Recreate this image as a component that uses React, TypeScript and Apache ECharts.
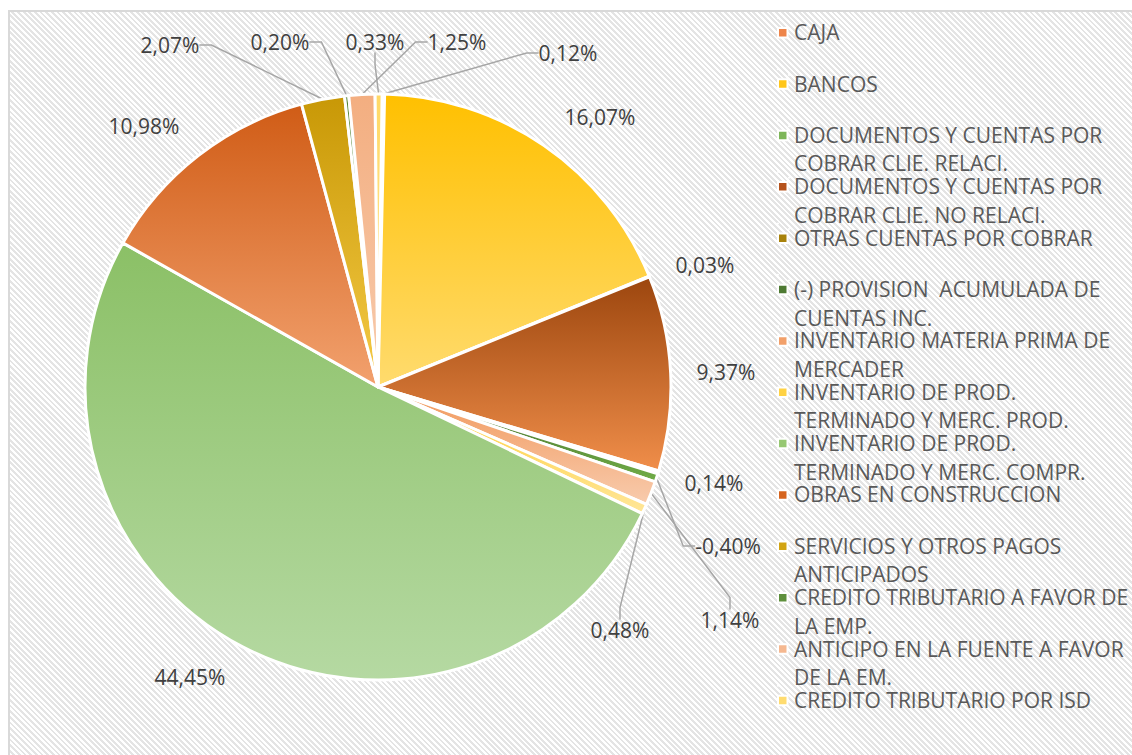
import React, { useEffect, useRef } from "react";
import * as echarts from "echarts";

const categories = [
  "CAJA",
  "BANCOS",
  "DOCUMENTOS Y CUENTAS POR\nCOBRAR CLIE. RELACI.",
  "DOCUMENTOS Y CUENTAS POR\nCOBRAR CLIE. NO RELACI.",
  "OTRAS CUENTAS POR COBRAR",
  "(-) PROVISION  ACUMULADA DE\nCUENTAS INC.",
  "INVENTARIO MATERIA PRIMA DE\nMERCADER",
  "INVENTARIO DE PROD.\nTERMINADO Y MERC. PROD.",
  "INVENTARIO DE PROD.\nTERMINADO Y MERC. COMPR.",
  "OBRAS EN CONSTRUCCION",
  "SERVICIOS Y OTROS PAGOS\nANTICIPADOS",
  "CREDITO TRIBUTARIO A FAVOR DE\nLA EMP.",
  "ANTICIPO EN LA FUENTE A FAVOR\nDE LA EM.",
  "CREDITO TRIBUTARIO POR ISD",
];

const values = [0.12, 16.07, 0.03, 9.37, 0.14, -0.4, 1.14, 0.48, 44.45, 10.98, 2.07, 0.2, 1.25, 0.33];

const topColors = [
  "#ED7D31", "#FFC000", "#70AD47", "#9C460E", "#997300", "#43682B", "#F1975A",
  "#FFCD33", "#8BC066", "#D05C16", "#C89806", "#548235", "#F3AE80", "#FFD966",
];
const bottomColors = [
  "#F4B183", "#FFDB6E", "#A9D18E", "#F08E4A", "#E0B030", "#70AD47", "#F8CBAD",
  "#FFE699", "#B5D9A2", "#F2A16E", "#F5CA45", "#8CC168", "#F8CBAD", "#FFE699",
];
const legendColors = [
  "#EE854A", "#FFC61A", "#7DB659", "#B5521C", "#A8820C", "#4E7A33", "#F2A06A",
  "#FFD244", "#97C873", "#D6641E", "#D2A412", "#5E8F3C", "#F5B890", "#FFDC70",
];

// label centres (layout only)
const labelX = [568, 600, 705, 726, 714, 728, 730, 620, 190, 144, 170, 280, 457, 375];
const labelY = [53, 117, 265, 372, 483, 546, 620, 630, 677, 126, 45, 42, 42, 42];
const withLeader = [true, false, false, false, false, true, true, true, false, false, true, true, true, true];

const FONT = "'Open Sans', 'Liberation Sans', sans-serif";

export default function App() {
  const ref = useRef<HTMLDivElement>(null);

  useEffect(() => {
    const chart = echarts.init(ref.current!, null, { renderer: "svg" });
    const fmt = (v: number) => v.toFixed(2).replace(".", ",") + "%";
    const data = categories.map((name, i) => ({
      name,
      value: Math.abs(values[i]),
      itemStyle: {
        color: new echarts.graphic.LinearGradient(0, 0, 0, 1, [
          { offset: 0, color: topColors[i] },
          { offset: 1, color: bottomColors[i] },
        ]),
      },
      labelLine: { show: withLeader[i] },
    }));

    chart.setOption({
      animation: false,
      backgroundColor: "transparent",
      tooltip: { show: false },
      legend: {
        orient: "vertical",
        left: 777,
        top: 17,
        padding: 0,
        itemGap: -7.6,
        itemWidth: 11,
        itemHeight: 57,
        selectedMode: false,
        icon: "path://M0,0h0.01v0.01h-0.01zM0,10h9.5v9.5h-9.5zM11,57h0.01v0.01h-0.01z",
        data: categories.map((name, i) => ({ name, itemStyle: { color: legendColors[i] } })),
        formatter: (name: string) => (name.indexOf("\n") >= 0 ? name : name + "\n "),
        textStyle: { fontFamily: FONT, fontSize: 21, color: "#595959", lineHeight: 28.5 },
      },
      series: [
        {
          type: "pie",
          center: [378, 387],
          radius: 293,
          startAngle: 89.2,
          clockwise: true,
          avoidLabelOverlap: false,
          data,
          itemStyle: { borderColor: "#FFFFFF", borderWidth: 3 },
          label: {
            show: true,
            position: "outside",
            formatter: (p: any) => fmt(values[p.dataIndex]),
            fontFamily: FONT,
            fontSize: 21,
            color: "#404040",
          },
          labelLine: {
            show: true,
            length: 10,
            length2: 12,
            lineStyle: { color: "#A6A6A6", width: 1.5 },
          },
          labelLayout: (p: any) => ({
            x: labelX[p.dataIndex],
            y: labelY[p.dataIndex],
            align: "center",
            verticalAlign: "middle",
          }),
          emphasis: { disabled: true },
        },
      ],
    });
    return () => chart.dispose();
  }, []);

  return (
    <>
      <div
        style={{
          position: "fixed",
          left: 8,
          top: 10,
          width: 1124,
          height: 745,
          boxSizing: "border-box",
          borderLeft: "2px solid #D9D9D9",
          borderTop: "2px solid #D9D9D9",
          background:
            "repeating-linear-gradient(45deg, #FFFFFF 0px, #FFFFFF 2px, #E4E4E4 2px, #E4E4E4 4px)",
        }}
      />
      <div style={{ position: "fixed", left: 0, top: 0, width: 1132, height: 755 }}>
        <div ref={ref} style={{ width: 1132, height: 755 }} />
      </div>
    </>
  );
}
